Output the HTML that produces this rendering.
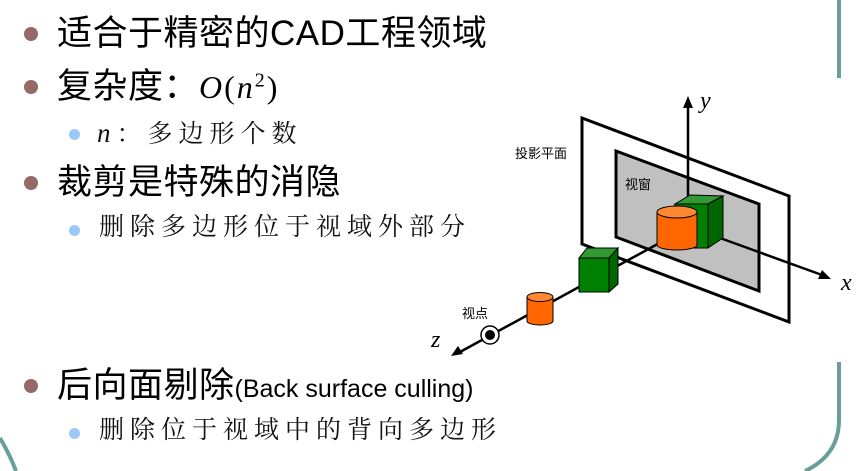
<!DOCTYPE html>
<html><head><meta charset="utf-8"><style>
body{margin:0;width:863px;height:471px;background:#fff;overflow:hidden;position:relative;font-family:"Liberation Sans","Noto Sans CJK SC",sans-serif}
.b{position:absolute;width:14px;height:14px;border-radius:50%;background:#956969}
.s{position:absolute;width:11px;height:11px;border-radius:50%;background:#9cc8f8}
.m{position:absolute;font-size:35px;color:#000;white-space:nowrap;line-height:1;letter-spacing:0.5px}
.t{position:absolute;font-size:25px;color:#111;white-space:nowrap;line-height:1;letter-spacing:6px;font-family:"Liberation Serif","Noto Serif CJK SC",serif}
</style></head><body>
<svg width="863" height="471" style="position:absolute;left:0;top:0">
<path d="M839 0 V78" stroke="#6a9e9b" stroke-width="4" fill="none"/>
<path d="M839 362 V420 Q839 455 805 471" stroke="#6a9e9b" stroke-width="4" fill="none"/>
<path d="M0 438 Q10 455 16 471" stroke="#6a9e9b" stroke-width="4" fill="none"/>
<polygon points="582,118 789,196 789,322 582,244" fill="#fff" stroke="#000" stroke-width="3"/>
<polygon points="616,151 759,204 759,291 616,237" fill="#c0c0c0" stroke="#000" stroke-width="3"/>
<line x1="688" y1="106" x2="688" y2="200" stroke="#000" stroke-width="2.5"/>
<polygon points="688,96 683,108 693,108" fill="#000"/>
<line x1="720" y1="238" x2="822" y2="275" stroke="#000" stroke-width="2.5"/>
<polygon points="831,279 818,279 822,270" fill="#000"/>
<line x1="665" y1="240" x2="460" y2="352" stroke="#000" stroke-width="2.5"/>
<polygon points="451,356 458,346 463,354" fill="#000"/>
<polygon points="675,204 690,195 723,196 708,204" fill="#339933" stroke="#000" stroke-width="1"/>
<polygon points="708,204 723,196 723,238 708,248" fill="#006600" stroke="#000" stroke-width="1"/>
<rect x="675" y="204" width="33" height="44" fill="#008000" stroke="#000" stroke-width="1"/>
<path d="M657 212 V245 A20 5 0 0 0 697 245 V212" fill="#ff6600" stroke="#000" stroke-width="1"/>
<ellipse cx="677" cy="212" rx="20" ry="6" fill="#ff8833" stroke="#000" stroke-width="1"/>
<polygon points="579,258 587,248 618,248 609,258" fill="#339933" stroke="#000" stroke-width="1"/>
<polygon points="609,258 618,248 618,284 609,292" fill="#006600" stroke="#000" stroke-width="1"/>
<rect x="579" y="258" width="30" height="34" fill="#008000" stroke="#000" stroke-width="1"/>
<path d="M527 297 V321 A13 4 0 0 0 553 321 V297" fill="#ff6600" stroke="#000" stroke-width="1"/>
<ellipse cx="540" cy="297" rx="13" ry="4.5" fill="#ff8833" stroke="#000" stroke-width="1"/>
<circle cx="490" cy="335" r="9" fill="#fff" stroke="#000" stroke-width="1.5"/>
<circle cx="490" cy="335" r="5" fill="#000"/>
<g font-family="Liberation Sans,Noto Sans CJK SC,sans-serif" font-size="13" fill="#000">
<text x="515" y="158">投影平面</text>
<text x="625" y="189">视窗</text>
<text x="462" y="318">视点</text>
</g>
<g font-family="Liberation Serif,serif" font-style="italic" font-size="24" fill="#000">
<text x="700" y="108">y</text>
<text x="841" y="290">x</text>
<text x="431" y="347">z</text>
</g>
</svg>
<div class="b" style="left:24px;top:27px"></div>
<div class="m" style="left:57px;top:16px">适合于精密的CAD工程领域</div>
<div class="b" style="left:24px;top:80px"></div>
<div class="m" style="left:57px;top:69px">复杂度：<span style="font-family:'Liberation Serif',serif;font-size:32px;letter-spacing:2px"><i>O</i>(<i>n</i><sup style="font-size:20px">2</sup>)</span></div>
<div class="s" style="left:69px;top:129px"></div>
<div class="t" style="left:97px;top:120px"><i style="font-family:'Liberation Serif',serif;font-size:27px">n</i>：多边形个数</div>
<div class="b" style="left:24px;top:176px"></div>
<div class="m" style="left:57px;top:165px">裁剪是特殊的消隐</div>
<div class="s" style="left:69px;top:225px"></div>
<div class="t" style="left:99px;top:215px">删除多边形位于视域外部分</div>
<div class="b" style="left:24px;top:379px"></div>
<div class="m" style="left:57px;top:368px">后向面剔除<span style="font-size:25px;letter-spacing:0">(Back surface culling)</span></div>
<div class="s" style="left:69px;top:428px"></div>
<div class="t" style="left:99px;top:418px">删除位于视域中的背向多边形</div>
</body></html>
